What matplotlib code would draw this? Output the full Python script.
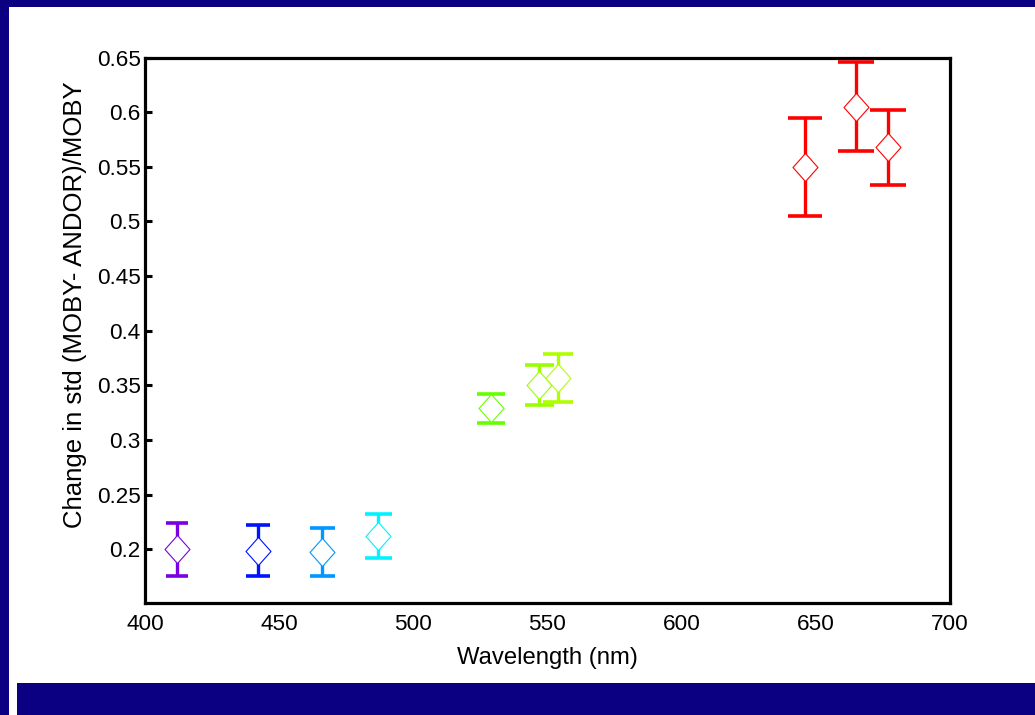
import matplotlib
matplotlib.use("Agg")
import matplotlib.pyplot as plt
from matplotlib.patches import Rectangle
from matplotlib.path import Path
from matplotlib.ticker import FixedLocator, NullLocator

plt.rcParams['font.family'] = ['Liberation Sans', 'DejaVu Sans']

# ---- data ----
wavelengths = [412, 442, 466, 487, 529, 547, 554, 646, 665, 677]
values = [0.200, 0.199, 0.198, 0.212, 0.329, 0.350, 0.357, 0.550, 0.605, 0.568]
errors = [0.024, 0.023, 0.022, 0.020, 0.0133, 0.0183, 0.022, 0.0448, 0.0407, 0.0343]
colors = ['#7b00e2', '#0013ff', '#0097ff', '#00f3ff', '#66ff00', '#99ff00',
          '#b0ff00', '#ff0000', '#ff0000', '#ff0000']
xticks = [400, 450, 500, 550, 600, 650, 700]
yticks = [0.2, 0.25, 0.3, 0.35, 0.4, 0.45, 0.5, 0.55, 0.6, 0.65]
ytick_labels = ['0.2', '0.25', '0.3', '0.35', '0.4', '0.45', '0.5', '0.55', '0.6', '0.65']
xlabel = 'Wavelength (nm)'
ylabel = 'Change in std (MOBY- ANDOR)/MOBY'

W, H = 1035, 715
NAVY = '#0b0082'
fig = plt.figure(figsize=(W / 100, H / 100), dpi=100, facecolor=NAVY)

# white slide panel and bottom navy band
fig.patches.append(Rectangle((9 / W, 0), (W - 9) / W, (H - 7) / H,
                             transform=fig.transFigure, facecolor='white',
                             edgecolor='none', zorder=-2))
fig.patches.append(Rectangle((17 / W, 0), (W - 17) / W, (715 - 683) / H,
                             transform=fig.transFigure, facecolor=NAVY,
                             edgecolor='none', zorder=-1))

left, right, top, bottom = 145, 950, 57.5, 603
ax = fig.add_axes([left / W, (H - bottom) / H, (right - left) / W, (bottom - top) / H])
ax.set_zorder(5)
ax.set_facecolor('white')

diamond = Path([(0, -1), (0.89, 0), (0, 1), (-0.89, 0), (0, -1)],
               [Path.MOVETO, Path.LINETO, Path.LINETO, Path.LINETO, Path.CLOSEPOLY])

for x, y, e, c in zip(wavelengths, values, errors, colors):
    tee = x / 100.0
    ax.vlines(x, y - e, y + e, colors=c, linewidth=2.4, zorder=2)
    ax.hlines([y - e, y + e], x - tee, x + tee, colors=c, linewidth=2.6, zorder=2)
    ax.plot([x], [y], linestyle='none', marker=diamond, markersize=20.2,
            markerfacecolor='white', markeredgecolor=c, markeredgewidth=0.8, zorder=3)

ax.set_xlim(400, 700)
ax.set_ylim(0.151, 0.65)
ax.set_xticks(xticks)
ax.set_yticks(yticks)
ax.set_yticklabels(ytick_labels)
ax.xaxis.set_minor_locator(FixedLocator([450, 650]))
ax.yaxis.set_minor_locator(NullLocator())

ax.tick_params(axis='x', which='major', direction='in', length=0, labelsize=16.2,
               pad=8, colors='black')
ax.tick_params(axis='x', which='minor', direction='in', top=True, bottom=False,
               length=5, width=2.2)
ax.tick_params(axis='y', which='major', direction='in', length=5, width=2.2,
               labelsize=16.2, pad=3, left=True, right=False)

for s in ax.spines.values():
    s.set_linewidth(2.3)
    s.set_color('black')

ax.set_xlabel(xlabel, fontsize=17.2)
ax.xaxis.set_label_coords(0.5, -0.081)
ax.set_ylabel(ylabel, fontsize=18.5)
ax.yaxis.set_label_coords(-0.072, 0.546)

fig.savefig('out.png', dpi=100, facecolor=NAVY)
